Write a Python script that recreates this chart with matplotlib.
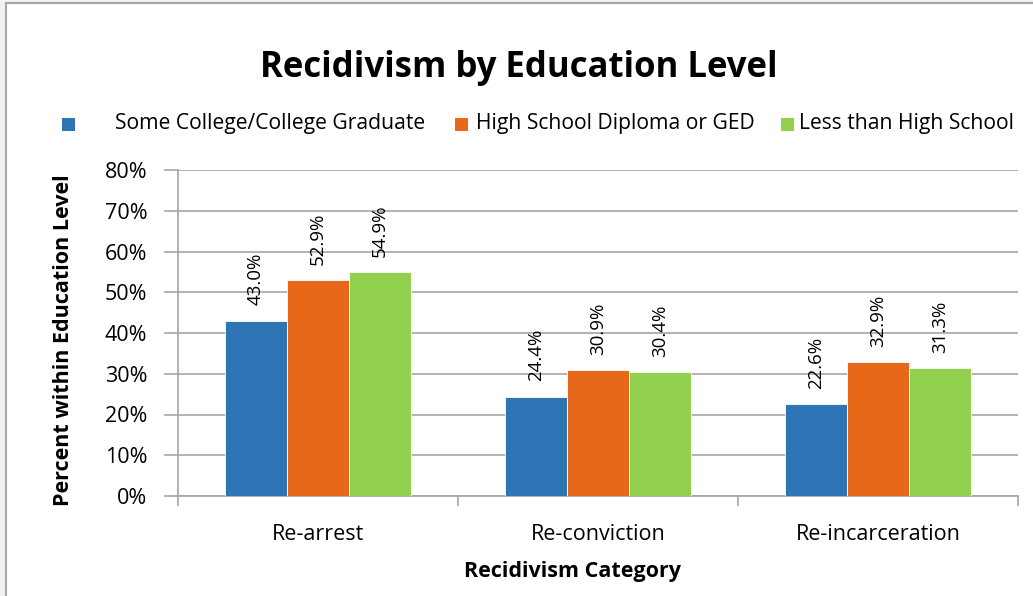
import numpy as np
import matplotlib
matplotlib.use("Agg")
import matplotlib.pyplot as plt
from matplotlib.patches import Rectangle

plt.rcParams["font.family"] = ["Open Sans", "DejaVu Sans"]

categories = ["Re-arrest", "Re-conviction", "Re-incarceration"]
series_names = ["Some College/College Graduate", "High School Diploma or GED", "Less than High School"]
college = [43.0, 24.4, 22.6]
high_school = [52.9, 30.9, 32.9]
less_than_hs = [54.9, 30.4, 31.3]
series_values = [college, high_school, less_than_hs]
colors = ["#2E75B6", "#E8681A", "#92D050"]

W, H = 1033, 596
fig = plt.figure(figsize=(W / 100, H / 100), dpi=100, facecolor="#f2f2f2")


def fx(px):
    return px / W


def fy(py):
    return 1 - py / H


# white chart area with a gray border (cut at right/bottom like the screenshot)
fig.patches.append(Rectangle((fx(6), fy(H + 10)), fx(W + 10), fy(3) - fy(H + 10),
                             transform=fig.transFigure, facecolor="white",
                             edgecolor="#a6a6a6", linewidth=1.5, zorder=-1))

ax = fig.add_axes([fx(178), fy(496), fx(1018) - fx(178), fy(170) - fy(496)], zorder=2)
ax.set_facecolor("none")

x = np.arange(len(categories))
bw = 62 / 280
for i, (vals, c) in enumerate(zip(series_values, colors)):
    pos = x + (i - 1) * bw
    ax.bar(pos, vals, width=bw, color=c, edgecolor="white", linewidth=0.6, zorder=3)
    for p, v in zip(pos, vals):
        ax.annotate(f"{v:.1f}%", (p, v), xytext=(0, 11), textcoords="offset points",
                    rotation=90, ha="center", va="bottom", fontsize=13.5, color="#000000")

ax.set_xlim(-0.5, len(categories) - 0.5)
ax.set_ylim(0, 80)
ax.set_yticks(np.arange(0, 81, 10))
ax.set_yticklabels([f"{t}%" for t in range(0, 81, 10)], fontsize=15.5)
ax.yaxis.grid(True, color="#a6a6a6", linewidth=1.2, zorder=0)
ax.set_axisbelow(True)

ax.set_xticks(x)
ax.set_xticklabels(categories, fontsize=15.5)
ax.tick_params(axis="x", length=0, pad=20)
ax.set_xticks(np.arange(-0.5, len(categories), 1.0), minor=True)
ax.tick_params(axis="x", which="minor", length=7, color="#a6a6a6", width=1.2, direction="out")
ax.tick_params(axis="y", length=10, color="#a6a6a6", width=1.2, pad=12)

for s in ["top", "right"]:
    ax.spines[s].set_visible(False)
for s in ["left", "bottom"]:
    ax.spines[s].set_color("#a6a6a6")
    ax.spines[s].set_linewidth(1.2)

fig.text(fx(519), fy(68), "Recidivism by Education Level", ha="center", va="center",
         fontsize=25, fontweight="bold")
fig.text(fx(64), fy(340), "Percent within Education Level", ha="center", va="center",
         rotation=90, fontsize=15.5, fontweight="bold")
fig.text(fx(573), fy(572), "Recidivism Category", ha="center", va="center",
         fontsize=15.5, fontweight="bold")

# legend laid out like the source (Excel spacing)
sq_x = [62, 455, 781]
txt_x = [115, 476, 799]
for name, c, sx, tx in zip(series_names, colors, sq_x, txt_x):
    fig.patches.append(Rectangle((fx(sx), fy(131)), fx(13), fy(118) - fy(131),
                                 transform=fig.transFigure, facecolor=c, edgecolor="none"))
    fig.text(fx(tx), fy(124), name, ha="left", va="center", fontsize=15.2)

fig.savefig("out.png", dpi=100, facecolor=fig.get_facecolor())
